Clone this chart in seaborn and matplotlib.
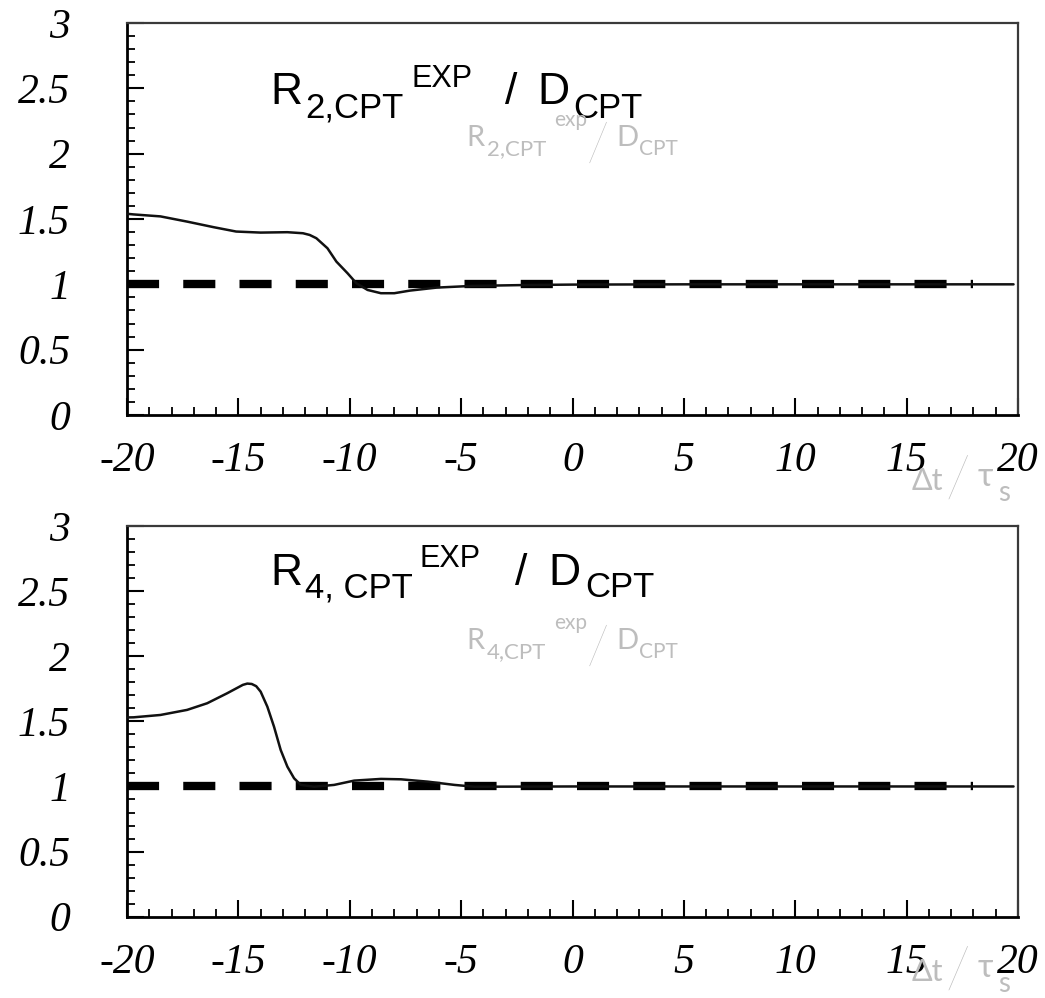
import matplotlib
matplotlib.use("Agg")
import matplotlib.pyplot as plt
import seaborn as sns
import numpy as np
from matplotlib.ticker import MultipleLocator

# ---------------- data ----------------
x_r2 = [-20.0, -19.7, -18.5, -17.3, -16.1, -15.1, -14.0, -12.8, -12.1, -11.8, -11.5,
        -11.0, -10.6, -10.1, -9.7, -9.2, -8.6, -8.0, -7.3, -6.1, -4.5, -2.0, 0.0, 5.0, 19.8]
y_r2 = [1.54, 1.535, 1.52, 1.48, 1.437, 1.404, 1.396, 1.399, 1.391, 1.378, 1.353,
        1.276, 1.174, 1.085, 1.008, 0.957, 0.932, 0.932, 0.952, 0.975, 0.988, 0.995, 0.998, 1.0, 1.0]

x_r4 = [-20.0, -19.7, -18.5, -17.3, -16.4, -15.5, -14.8, -14.6, -14.4, -14.2, -14.0,
        -13.7, -13.4, -13.1, -12.8, -12.5, -12.2, -11.6, -10.7, -9.8, -8.6, -7.7,
        -6.5, -5.3, -4.4, 0.0, 19.8]
y_r4 = [1.53, 1.531, 1.549, 1.588, 1.639, 1.716, 1.78, 1.79, 1.787, 1.77, 1.728,
        1.613, 1.459, 1.28, 1.152, 1.063, 1.012, 0.998, 1.012, 1.045, 1.058, 1.055,
        1.037, 1.012, 0.998, 1.0, 1.0]

ref_x = [-20.0, 18.0]
ref_y = [1.0, 1.0]

xticks = [-20, -15, -10, -5, 0, 5, 10, 15, 20]
xticklabels = ["-20", "-15", "-10", "-5", "0", "5", "10", "15", "20"]
yticks = [0, 0.5, 1, 1.5, 2, 2.5, 3]
yticklabels = ["0", "0.5", "1", "1.5", "2", "2.5", "3"]

# ---------------- figure ----------------
sns.set_theme(style="white")
plt.rcParams["font.family"] = ["Liberation Sans", "DejaVu Sans"]

W, H = 1045, 998
fig = plt.figure(figsize=(W / 100, H / 100), dpi=100)
fig.patch.set_facecolor("white")

ax_top = fig.add_axes([127 / W, 1 - 415 / H, 891 / W, 392 / H])
ax_bot = fig.add_axes([127 / W, 1 - 916.7 / H, 891 / W, 390.7 / H])

GRAY = "#bdbdbd"


def put(x_px, y_px, s, size, color="black", zorder=5, gray_font=False, weight="normal"):
    if gray_font:
        fam = ["Lato", "Liberation Sans", "DejaVu Sans"]
    else:
        fam = ["Liberation Sans", "DejaVu Sans"]
    fig.text(x_px / W, 1 - y_px / H, s, fontsize=size, color=color,
             ha="left", va="baseline", zorder=zorder,
             family=fam, fontweight=weight)


def style_axes(ax, xs, ys):
    sns.lineplot(x=ref_x, y=ref_y, ax=ax, color="black", lw=6,
                 linestyle=(0, (3.85, 2.9)), solid_capstyle="butt",
                 dash_capstyle="butt", zorder=3)
    sns.lineplot(x=xs, y=ys, ax=ax, color="#111111", lw=1.8, zorder=4, sort=False)
    ax.set_xlim(-20, 20)
    ax.set_ylim(0, 3)
    ax.set_facecolor("white")
    ax.set_xticks(xticks, xticklabels, fontfamily="Liberation Serif",
                  fontstyle="italic", fontsize=30)
    ax.set_yticks(yticks, yticklabels, fontfamily="Liberation Serif",
                  fontstyle="italic", fontsize=30)
    ax.xaxis.set_minor_locator(MultipleLocator(1))
    ax.yaxis.set_minor_locator(MultipleLocator(0.1))
    ax.tick_params(axis="both", which="both", direction="in", top=False,
                   right=False, left=True, bottom=True, colors="black")
    ax.tick_params(axis="both", which="major", length=12.5, width=1.5)
    ax.tick_params(axis="both", which="minor", length=6, width=1.3)
    ax.tick_params(axis="x", which="major", pad=19)
    ax.tick_params(axis="y", which="major", pad=41)
    for side in ["left", "bottom"]:
        ax.spines[side].set_color("black")
        ax.spines[side].set_linewidth(2.0)
    for side in ["top", "right"]:
        ax.spines[side].set_color("#3a3a3a")
        ax.spines[side].set_linewidth(1.6)
        ax.spines[side].set_visible(True)
    ax.set_xlabel("")
    ax.set_ylabel("")


style_axes(ax_top, x_r2, y_r2)
style_axes(ax_bot, x_r4, y_r4)

# ---- big black annotations ----
put(270, 104, "R", 32)
put(305, 118, "2,CPT", 25)
put(411, 87, "EXP", 22)
put(505, 104, "/", 32)
put(537, 104, "D", 32)
put(573, 118, "CPT", 25)

put(270, 585, "R", 32)
put(305, 597, "4, CPT", 25)
put(419, 567, "EXP", 22)
put(515, 585, "/", 32)
put(548, 585, "D", 32)
put(585, 597, "CPT", 25)

# ---- light gray annotations ----
for dy, idx in [(0, "2"), (503, "4")]:
    put(466, 146 + dy, "R", 21, GRAY, gray_font=True)
    put(487, 155 + dy, idx + ",CPT", 16, GRAY, gray_font=True)
    put(554, 126 + dy, "exp", 15, GRAY, gray_font=True)
    put(587, 161 + dy, "/", 38, GRAY, gray_font=True, weight="light")
    put(616, 146 + dy, "D", 21, GRAY, gray_font=True)
    put(639, 155 + dy, "CPT", 15, GRAY, gray_font=True)

for dy in [0, 491]:
    put(912, 490 + dy, "Δt", 22, GRAY, zorder=0, gray_font=True)
    put(946, 498 + dy, "/", 42, GRAY, zorder=0, gray_font=True, weight="light")
    put(978, 486 + dy, "τ", 24, GRAY, zorder=0, gray_font=True)
    put(998, 501 + dy, "s", 20, GRAY, zorder=0, gray_font=True)

fig.savefig("out.png", dpi=100, facecolor="white")
